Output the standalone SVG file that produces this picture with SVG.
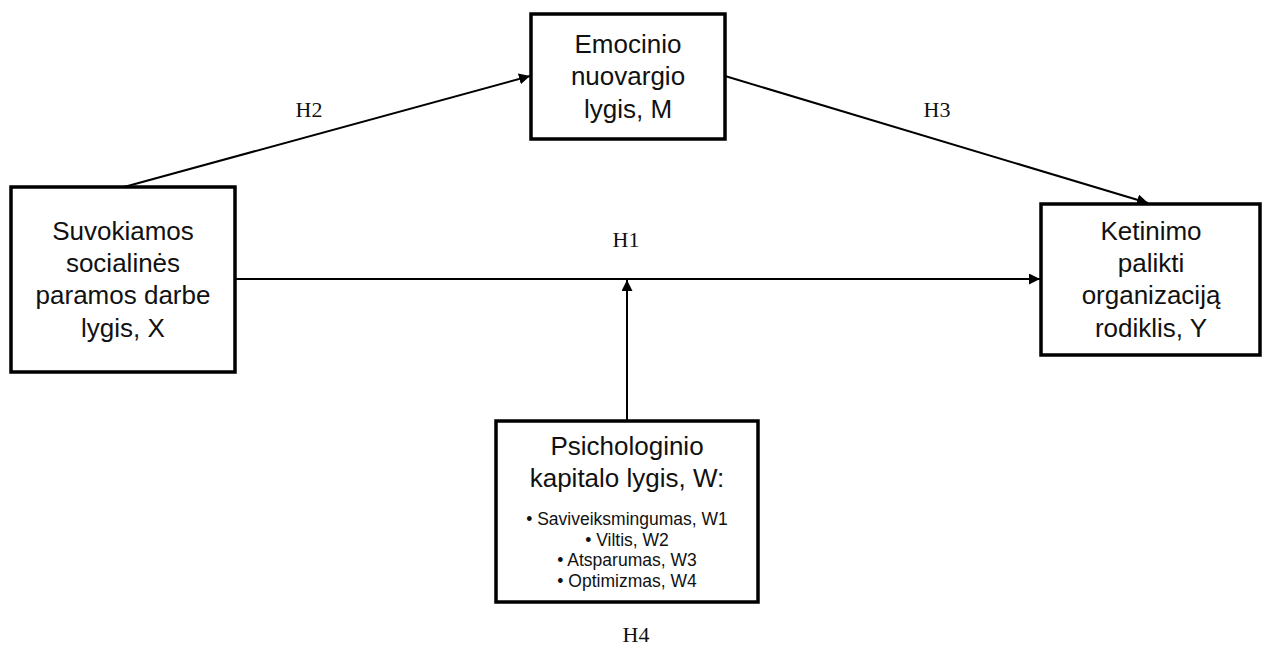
<svg xmlns="http://www.w3.org/2000/svg" width="1262" height="645" viewBox="0 0 1262 645">
<style>
.box{fill:#fff;stroke:#000;stroke-width:3.5}
.t{font-family:"Liberation Sans",Arial,sans-serif;font-size:26px;fill:#111;text-anchor:middle}
.s{font-family:"Liberation Sans",Arial,sans-serif;font-size:17.5px;fill:#111;text-anchor:middle}
.h{font-family:"Liberation Serif","Times New Roman",serif;font-size:22px;fill:#111;text-anchor:middle}
.c{stroke:#000;stroke-width:2;fill:none;marker-end:url(#arr)}
</style>
<defs>
<marker id="arr" viewBox="0 0 10 10" refX="10" refY="5" markerWidth="5.5" markerHeight="5.5" orient="auto" markerUnits="strokeWidth">
<path d="M0,0 L10,5 L0,10 z" fill="#000"/>
</marker>
</defs>
<rect width="1262" height="645" fill="#fff"/>
<g id="connectors">
<line class="c" x1="124" y1="187" x2="530" y2="76"/>
<line class="c" x1="725" y1="76" x2="1148" y2="203"/>
<line class="c" x1="235" y1="279" x2="1040" y2="279"/>
<line class="c" x1="627" y1="421" x2="627" y2="280"/>
<text class="h" x="309" y="117">H2</text>
<text class="h" x="937" y="117">H3</text>
<text class="h" x="626" y="247">H1</text>
<text class="h" x="636" y="642">H4</text>
</g>
<g id="node-M">
<rect class="box" x="531" y="14" width="194" height="125"/>
<text class="t" x="628" y="53">Emocinio</text>
<text class="t" x="628" y="85">nuovargio</text>
<text class="t" x="628" y="118">lygis, M</text>
</g>
<g id="node-X">
<rect class="box" x="11" y="187" width="224" height="185"/>
<text class="t" x="123" y="240">Suvokiamos</text>
<text class="t" x="123" y="272">socialinės</text>
<text class="t" x="123" y="304">paramos darbe</text>
<text class="t" x="123" y="337">lygis, X</text>
</g>
<g id="node-Y">
<rect class="box" x="1041" y="204" width="219" height="151"/>
<text class="t" x="1151" y="240">Ketinimo</text>
<text class="t" x="1151" y="272">palikti</text>
<text class="t" x="1151" y="304">organizaciją</text>
<text class="t" x="1151" y="337">rodiklis, Y</text>
</g>
<g id="node-W">
<rect class="box" x="496" y="421" width="262" height="181"/>
<text class="t" x="627" y="455">Psichologinio</text>
<text class="t" x="627" y="487">kapitalo lygis, W:</text>
<text class="s" x="627" y="525">• Saviveiksmingumas, W1</text>
<text class="s" x="627" y="546">• Viltis, W2</text>
<text class="s" x="627" y="566">• Atsparumas, W3</text>
<text class="s" x="627" y="587">• Optimizmas, W4</text>
</g>
</svg>
